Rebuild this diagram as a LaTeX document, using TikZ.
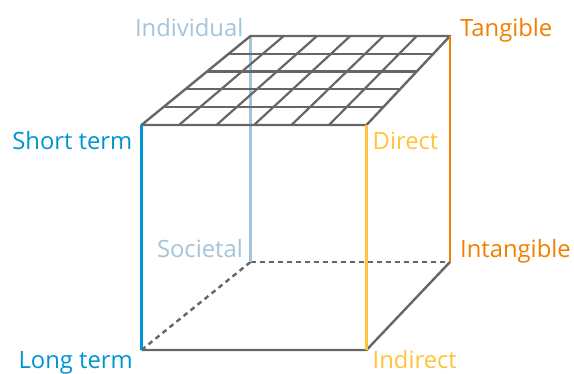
\documentclass[tikz,border=0pt]{standalone}
\usepackage{fontspec}
\setmainfont{Open Sans}
\usetikzlibrary{positioning, calc}
\definecolor{termblue}{RGB}{0,148,210}
\definecolor{scopeblue}{RGB}{163,196,218}
\definecolor{directyellow}{RGB}{255,196,58}
\definecolor{tangorange}{RGB}{239,128,0}
\definecolor{edgegray}{RGB}{102,102,102}

\begin{document}
\begin{tikzpicture}[x=1pt, y=-1pt,
        % Styles
        edge/.style={draw=edgegray, line width=2.4pt, line join=round},
        hidden/.style={edge, dash pattern=on 5pt off 4pt},
        cell/.style={draw=edgegray, line width=2.2pt},
        axisline/.style={line width=2.6pt},
        lbl/.style={inner sep=0pt, font=\fontsize{23.8}{28}\selectfont},
    ]
        \useasboundingbox (0,0) rectangle (574,374);

        % === Cube corners ===
        \coordinate (ftl) at (141.5,125);
        \coordinate (ftr) at (366.5,125);
        \coordinate (fbl) at (141.5,350);
        \coordinate (fbr) at (366.5,350);
        \coordinate (btl) at (250.5,36);
        \coordinate (btr) at (450,36);
        \coordinate (bbl) at (250.5,262);
        \coordinate (bbr) at (450,262);

        % === Hidden edges (back) ===
        \draw[hidden] (fbl) -- (bbl);
        \draw[hidden] (bbl) -- (bbr);
        \draw[axisline, scopeblue] (btl) -- (bbl);

        % === Grid on top face ===
        \foreach \i in {1,...,5}
            \draw[cell] ($(ftl)!\i/6!(ftr)$) -- ($(btl)!\i/6!(btr)$);
        \foreach \j in {1,...,4}
            \draw[cell] ($(ftl)!\j/5!(btl)$) -- ($(ftr)!\j/5!(btr)$);
        \draw[edge] (ftl) -- (btl) -- (btr) -- (ftr) -- cycle;

        % === Visible edges ===
        \draw[edge] (fbl) -- (fbr) -- (bbr);
        \draw[axisline, tangorange] (btr) -- (bbr);
        \draw[axisline, directyellow] (ftr) -- (fbr);
        \draw[axisline, termblue] (ftl) -- (fbl);

        % === Labels ===
        \node[lbl, text=scopeblue, anchor=base east] (individual) at ($(btl)+(-7,1)$) {Individual};
        \node[lbl, text=tangorange, anchor=base west] (tangible) at ($(btr)+(10,1)$) {Tangible};
        \node[lbl, text=termblue, anchor=base east] (shortterm) at ($(ftl)+(-9,25)$) {Short term};
        \node[lbl, text=directyellow, anchor=base west] (direct) at ($(ftr)+(6,25)$) {Direct};
        \node[lbl, text=scopeblue, anchor=base east] (societal) at ($(bbl)+(-7.5,-4)$) {Societal};
        \node[lbl, text=tangorange, anchor=base west] (intangible) at ($(bbr)+(10,-4)$) {Intangible};
        \node[lbl, text=termblue, anchor=base east] (longterm) at ($(fbl)+(-8.5,19)$) {Long term};
        \node[lbl, text=directyellow, anchor=base west] (indirect) at ($(fbr)+(6,19)$) {Indirect};

    \end{tikzpicture}
\end{document}
